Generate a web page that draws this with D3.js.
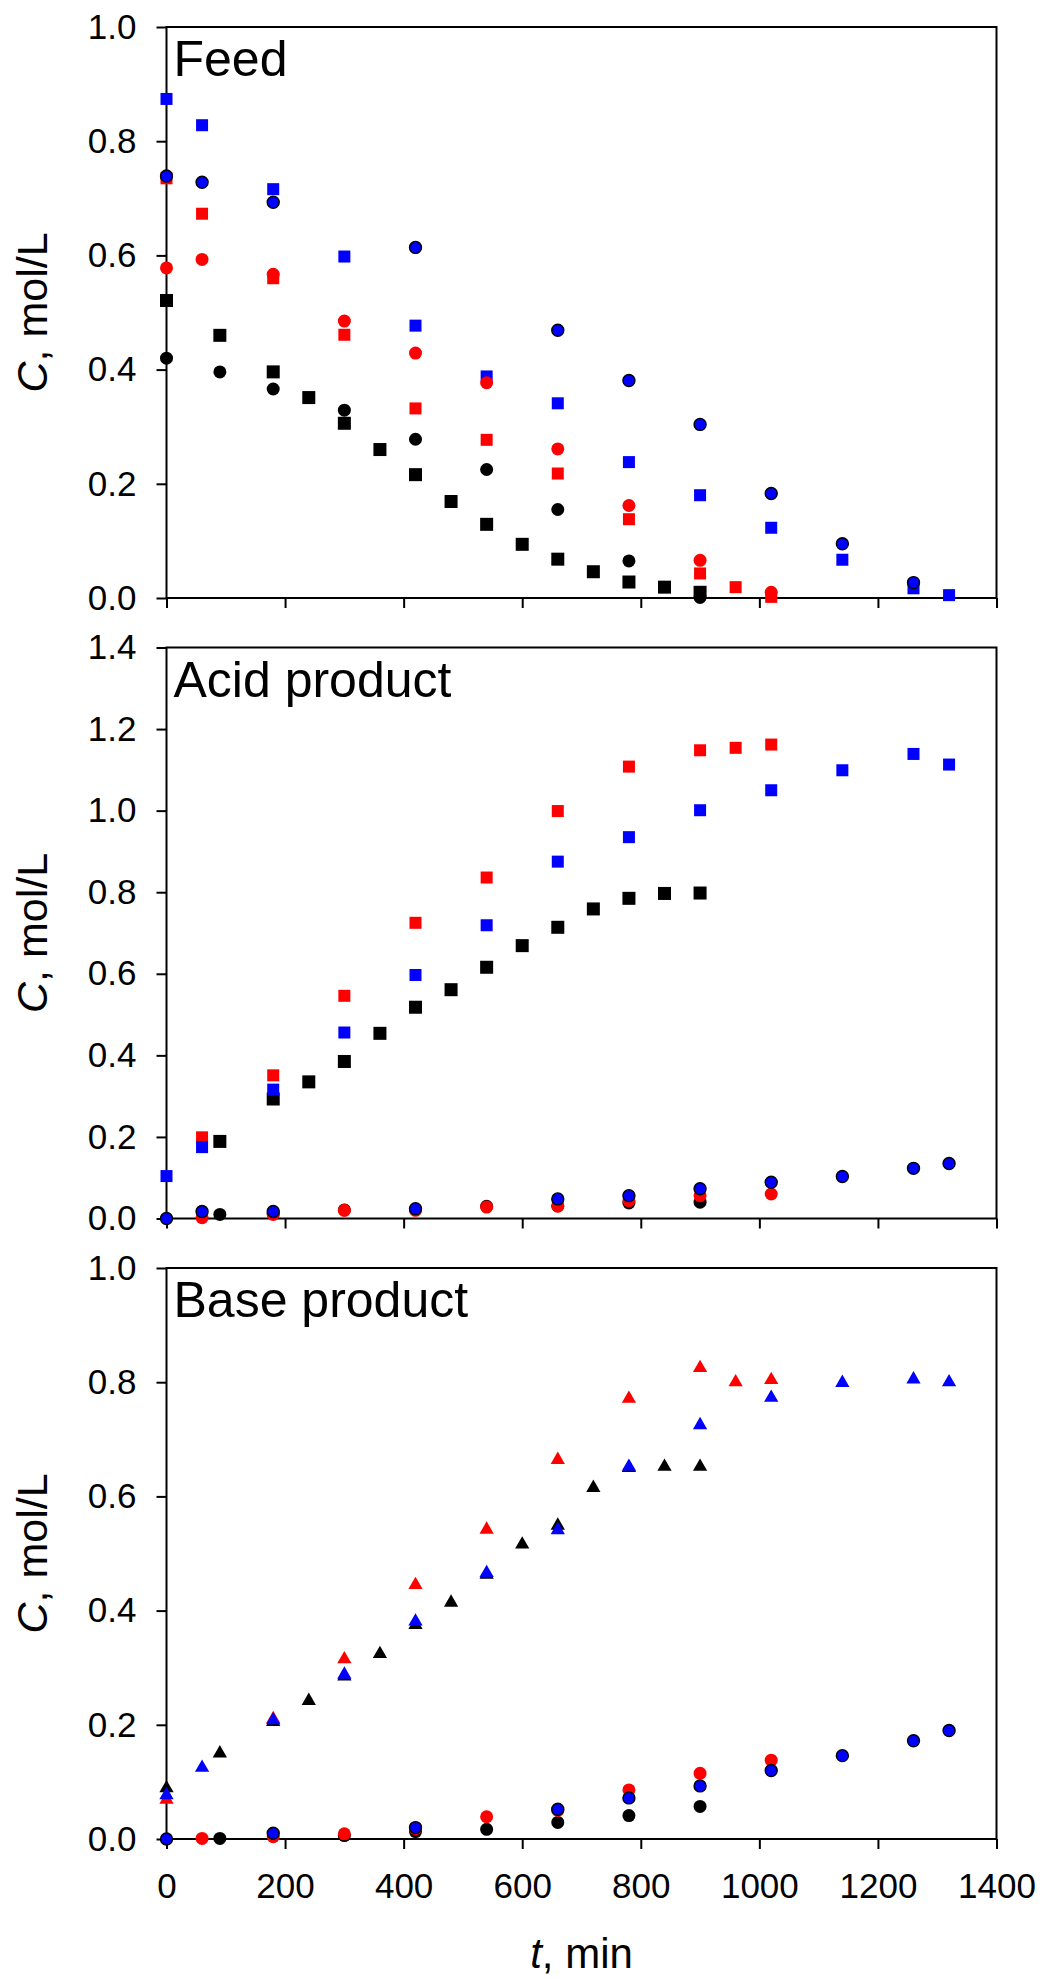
<!DOCTYPE html>
<html>
<head>
<meta charset="utf-8">
<script src="https://cdn.jsdelivr.net/npm/d3@7"></script>
<style>
body { margin: 0; background: #fff; }
svg text { font-family: "Liberation Sans", Arial, sans-serif; fill: #000; }
</style>
</head>
<body>
<script>
// tick values
const xTicks = [0, 200, 400, 600, 800, 1000, 1200, 1400]
const feedTicks = [0, 0.2, 0.4, 0.6, 0.8, 1.0]
const acidTicks = [0, 0.2, 0.4, 0.6, 0.8, 1.0, 1.2, 1.4]
const baseTicks = [0, 0.2, 0.4, 0.6, 0.8, 1.0]

// Feed  [t (min), C (mol/L)]
const feedBlackSq = [[0,0.521],[90,0.460],[180,0.396],[240,0.351],[300,0.306],[360,0.260],[420,0.216],[480,0.169],[540,0.129],[600,0.094],[660,0.068],[720,0.046],[780,0.028],[840,0.019],[900,0.010]]
const feedRedSq = [[0,0.735],[60,0.673],[180,0.560],[300,0.461],[420,0.332],[540,0.277],[660,0.218],[780,0.138],[900,0.043],[960,0.019],[1020,0.002]]
const feedBlueSq = [[0,0.874],[60,0.828],[180,0.716],[300,0.598],[420,0.477],[540,0.388],[660,0.341],[780,0.238],[900,0.180],[1020,0.123],[1140,0.067],[1260,0.017],[1320,0.005]]
const feedBlackCirc = [[0,0.420],[90,0.396],[180,0.366],[300,0.329],[420,0.278],[540,0.225],[660,0.155],[780,0.065],[900,0.001]]
const feedRedCirc = [[0,0.578],[60,0.593],[180,0.567],[300,0.485],[420,0.429],[540,0.377],[660,0.261],[780,0.162],[900,0.066],[1020,0.010]]
const feedBlueCirc = [[0,0.739],[60,0.728],[180,0.693],[420,0.614],[660,0.469],[780,0.381],[900,0.304],[1020,0.183],[1140,0.095],[1260,0.027]]

// Acid product
const acidBlackSq = [[90,0.189],[180,0.293],[240,0.335],[300,0.385],[360,0.454],[420,0.518],[480,0.561],[540,0.616],[600,0.669],[660,0.714],[720,0.759],[780,0.785],[840,0.797],[900,0.798]]
const acidRedSq = [[60,0.199],[180,0.351],[300,0.546],[420,0.725],[540,0.836],[660,0.999],[780,1.108],[900,1.148],[960,1.154],[1020,1.162]]
const acidBlueSq = [[0,0.104],[60,0.175],[180,0.316],[300,0.456],[420,0.597],[540,0.719],[660,0.875],[780,0.935],[900,1.001],[1020,1.050],[1140,1.099],[1260,1.139],[1320,1.113]]
const acidBlackCirc = [[90,0.010],[180,0.012],[300,0.021],[420,0.022],[540,0.030],[660,0.031],[780,0.038],[900,0.040]]
const acidRedCirc = [[60,0.002],[180,0.010],[300,0.020],[420,0.020],[540,0.028],[660,0.030],[780,0.044],[900,0.056],[1020,0.060]]
const acidBlueCirc = [[0,0.000],[60,0.017],[180,0.017],[420,0.024],[660,0.048],[780,0.056],[900,0.073],[1020,0.089],[1140,0.103],[1260,0.123],[1320,0.135]]

// Base product
const baseBlackTri = [[0,0.089],[90,0.150],[180,0.205],[240,0.242],[300,0.285],[360,0.324],[420,0.375],[480,0.414],[540,0.463],[600,0.516],[660,0.549],[720,0.615],[780,0.650],[840,0.652],[900,0.652]]
const baseRedTri = [[0,0.069],[180,0.210],[300,0.315],[420,0.445],[540,0.542],[660,0.664],[780,0.771],[900,0.825],[960,0.800],[1020,0.804]]
const baseBlueTri = [[0,0.077],[60,0.125],[180,0.208],[300,0.288],[420,0.381],[540,0.466],[660,0.541],[780,0.652],[900,0.725],[1020,0.773],[1140,0.799],[1260,0.805],[1320,0.800]]
const baseBlackCirc = [[90,0.001],[300,0.006],[420,0.013],[540,0.017],[660,0.029],[780,0.041],[900,0.057]]
const baseRedCirc = [[60,0.001],[180,0.004],[300,0.009],[420,0.018],[540,0.039],[660,0.050],[780,0.086],[900,0.115],[1020,0.138]]
const baseBlueCirc = [[0,0.000],[180,0.010],[420,0.020],[660,0.052],[780,0.072],[900,0.093],[1020,0.120],[1140,0.146],[1260,0.172],[1320,0.190]]

const width = 1043, height = 1980
const left = 166.5, right = 996.5, panelH = 571

const panels = [
  {label: "Feed", top: 27, max: 1.0, ticks: feedTicks,
   series: [[feedBlackSq,"sq","#000"],[feedRedSq,"sq","#f00"],[feedBlueSq,"sq","#00f"],
            [feedBlackCirc,"c","#000"],[feedRedCirc,"c","#f00"],[feedBlueCirc,"c","#00f"]]},
  {label: "Acid product", top: 647.5, max: 1.4, ticks: acidTicks,
   series: [[acidBlackSq,"sq","#000"],[acidRedSq,"sq","#f00"],[acidBlueSq,"sq","#00f"],
            [acidBlackCirc,"c","#000"],[acidRedCirc,"c","#f00"],[acidBlueCirc,"c","#00f"]]},
  {label: "Base product", top: 1268, max: 1.0, ticks: baseTicks,
   series: [[baseBlackTri,"tri","#000"],[baseRedTri,"tri","#f00"],[baseBlueTri,"tri","#00f"],
            [baseBlackCirc,"c","#000"],[baseRedCirc,"c","#f00"],[baseBlueCirc,"c","#00f"]]}
]

const svg = d3.select("body").append("svg")
    .attr("width", width)
    .attr("height", height)

const x = d3.scaleLinear().domain([0, 1400]).range([left, right])
const tri = d3.symbol(d3.symbolTriangle).size(88)

panels.forEach(function(p, i) {
  const y = d3.scaleLinear().domain([0, p.max]).range([p.top + panelH, p.top])
  const last = i === panels.length - 1

  const xAxis = d3.axisBottom(x)
      .tickValues(xTicks)
      .tickSize(10)
      .tickPadding(24)
      .tickFormat(last ? d3.format("d") : "")

  const yAxis = d3.axisLeft(y)
      .tickValues(p.ticks)
      .tickSize(10)
      .tickPadding(20)
      .tickFormat(d3.format(".1f"))

  const gx = svg.append("g")
      .attr("transform", "translate(0," + (p.top + panelH) + ")")
      .call(xAxis)
  const gy = svg.append("g")
      .attr("transform", "translate(" + left + ",0)")
      .call(yAxis)

  ;[gx, gy].forEach(function(g) {
    g.select(".domain").remove()
    g.selectAll(".tick line").attr("stroke", "#000").attr("stroke-width", 2)
    g.selectAll(".tick text").style("font-size", "35px").attr("fill", "#000")
  })

  svg.append("rect")
      .attr("x", left)
      .attr("y", p.top)
      .attr("width", right - left)
      .attr("height", panelH)
      .attr("fill", "none")
      .attr("stroke", "#000")
      .attr("stroke-width", 2)

  svg.append("text")
      .attr("x", left + 7)
      .attr("y", p.top + 49)
      .style("font-size", "50px")
      .text(p.label)

  const yt = svg.append("text")
      .attr("transform", "translate(47," + (p.top + panelH / 2) + ") rotate(-90)")
      .attr("text-anchor", "middle")
      .style("font-size", "43px")
  yt.append("tspan").style("font-style", "italic").text("C")
  yt.append("tspan").text(", mol/L")

  const g = svg.append("g")
  p.series.forEach(function(s) {
    const data = s[0], shape = s[1], color = s[2]
    if (shape === "sq") {
      const sz = color === "#000" ? 13 : 12
      g.selectAll(null).data(data).enter().append("rect")
          .attr("x", function(d) { return x(d[0]) - sz / 2 })
          .attr("y", function(d) { return y(d[1]) - sz / 2 })
          .attr("width", sz)
          .attr("height", sz)
          .attr("fill", color)
    } else if (shape === "tri") {
      g.selectAll(null).data(data).enter().append("path")
          .attr("d", tri)
          .attr("transform", function(d) { return "translate(" + x(d[0]) + "," + y(d[1]) + ")" })
          .attr("fill", color)
    } else {
      g.selectAll(null).data(data).enter().append("circle")
          .attr("cx", function(d) { return x(d[0]) })
          .attr("cy", function(d) { return y(d[1]) })
          .attr("r", color === "#00f" ? 6 : 6.5)
          .attr("fill", color)
          .attr("stroke", color === "#00f" ? "#000" : "none")
          .attr("stroke-width", 1.4)
    }
  })
})

const xt = svg.append("text")
    .attr("x", (left + right) / 2)
    .attr("y", 1968)
    .attr("text-anchor", "middle")
    .style("font-size", "42px")
xt.append("tspan").style("font-style", "italic").text("t")
xt.append("tspan").text(", min")
</script>
</body>
</html>
